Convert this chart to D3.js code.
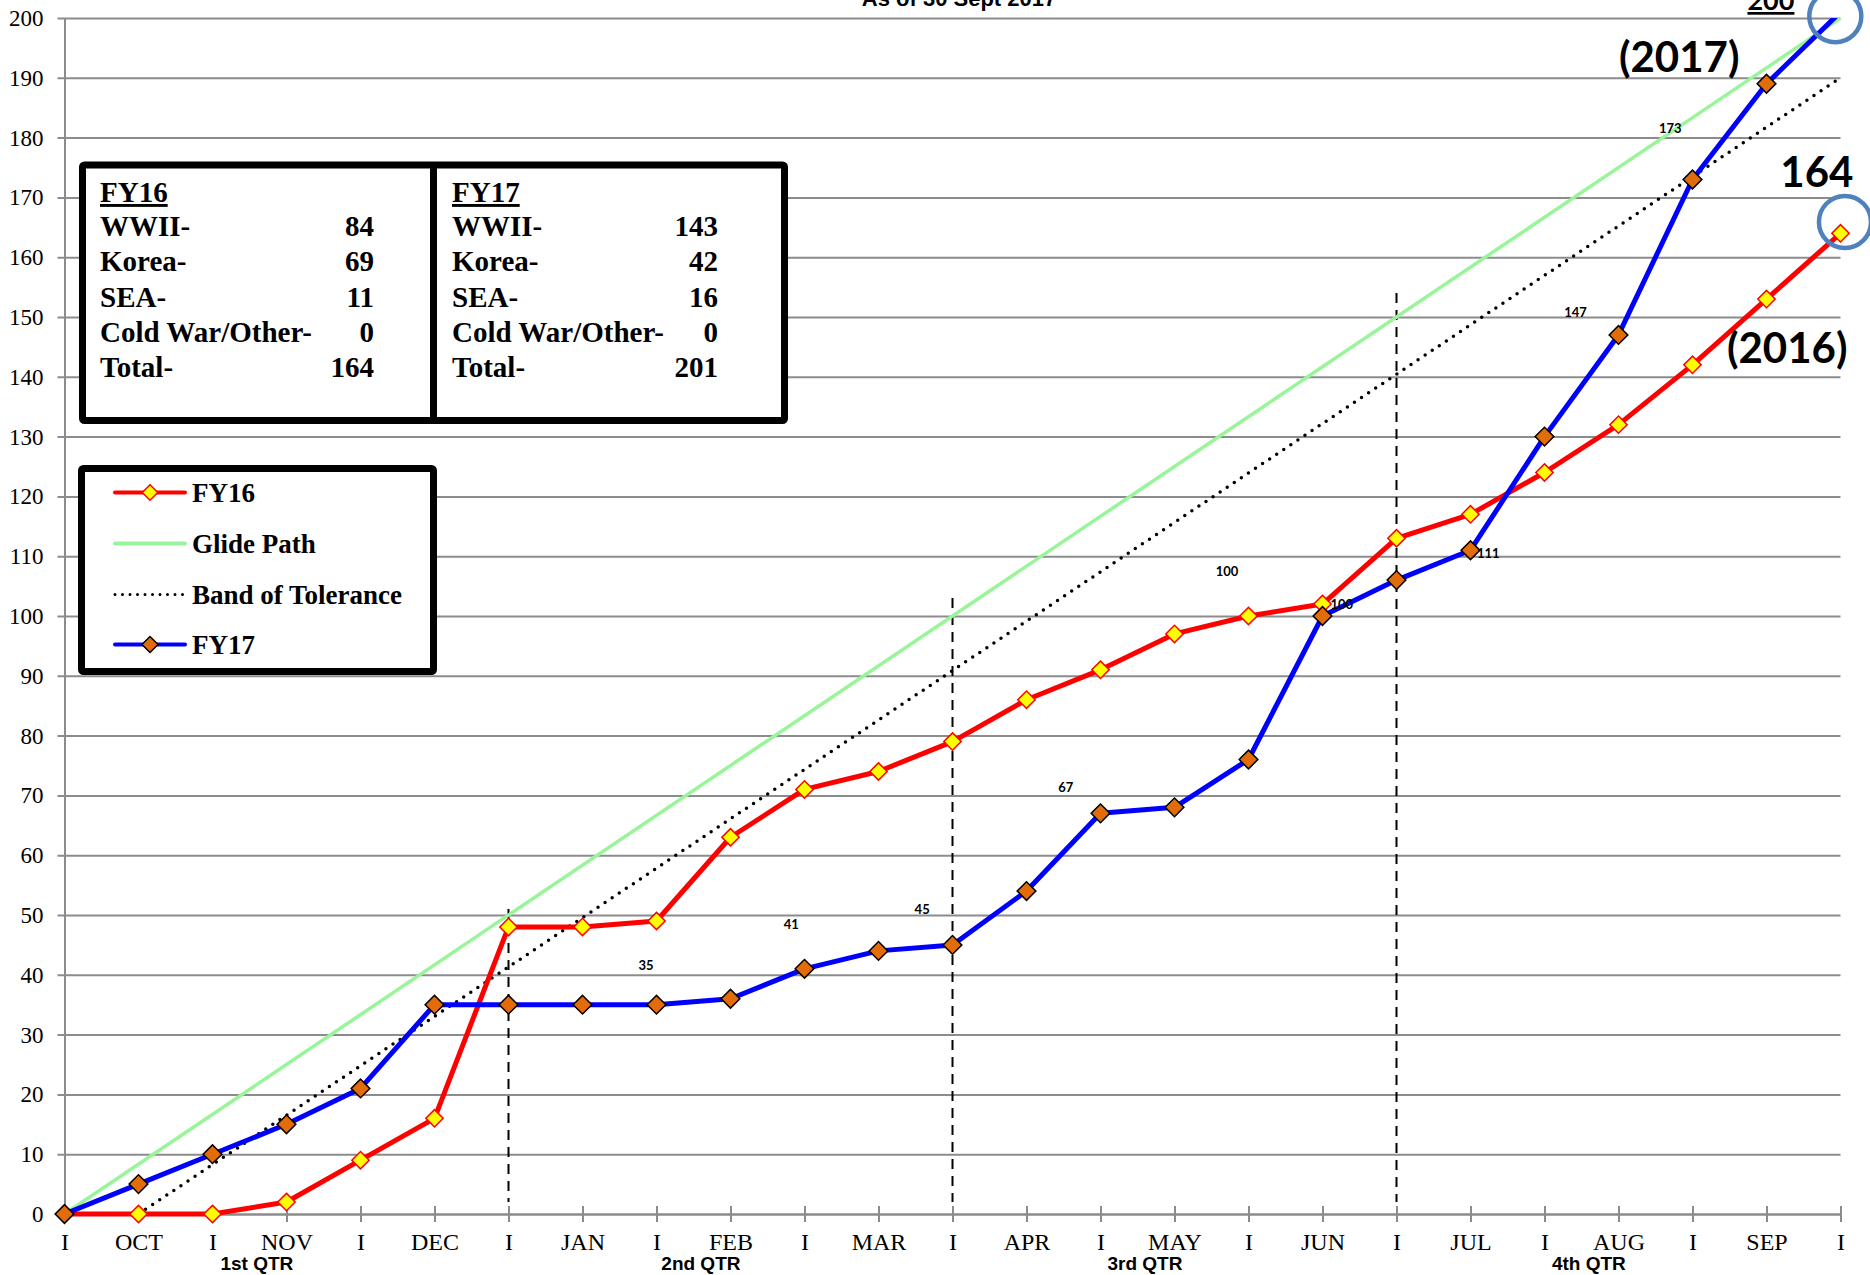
<!DOCTYPE html>
<html>
<head>
<meta charset="utf-8">
<script src="https://cdnjs.cloudflare.com/ajax/libs/d3/7.8.5/d3.min.js"></script>
<style>
  body { margin: 0; background: #fff; }
  svg { display: block; }
</style>
</head>
<body>
<div id="chart"></div>
<script>
'use strict';

// x slots ("I" marks the middle of each month)
var slots = ['I', 'OCT', 'I', 'NOV', 'I', 'DEC', 'I', 'JAN', 'I', 'FEB', 'I', 'MAR',
             'I', 'APR', 'I', 'MAY', 'I', 'JUN', 'I', 'JUL', 'I', 'AUG', 'I', 'SEP', 'I'];
var quarters = ['1st QTR', '2nd QTR', '3rd QTR', '4th QTR'];
var quarterPos = [2.6, 8.6, 14.6, 20.6];
var yTicks = [0, 10, 20, 30, 40, 50, 60, 70, 80, 90, 100, 110, 120, 130, 140, 150, 160, 170, 180, 190, 200];

// series
var fy16 = [0, 0, 0, 2, 9, 16, 48, 48, 49, 63, 71, 74, 79, 86, 91, 97, 100, 102, 113, 117, 124, 132, 142, 153, 164];
var fy17 = [0, 5, 10, 15, 21, 35, 35, 35, 35, 36, 41, 44, 45, 54, 67, 68, 76, 100, 106, 111, 130, 147, 173, 189, 201];
var glideIdx = [0, 24];
var glideVal = [0, 200];
var bandIdx = [1, 24];
var bandVal = [0, 190];

// quarter divider lines (slot, top value)
var dividerIdx = [6, 12, 18];
var dividerTop = [51, 103, 154];

// summary table
var tableCats = ['WWII-', 'Korea-', 'SEA-', 'Cold War/Other-', 'Total-'];
var fy16Counts = [84, 69, 11, 0, 164];
var fy17Counts = [143, 42, 16, 0, 201];

// loose data labels
var noteText = ['35', '41', '45', '67', '100', '100', '111', '147', '173'];
var noteIdx = [7.86, 9.82, 11.59, 13.53, 15.71, 17.26, 19.24, 20.42, 21.7];
var noteVal = [41.5, 48.5, 51, 71.4, 107.4, 102, 110.5, 150.8, 181.6];

// big call-outs
var calloutText = ['(2017)', '164', '(2016)'];
var calloutIdx = [21.82, 23.68, 23.28];
var calloutVal = [193.5, 174.3, 144.8];
var ringIdx = [23.93, 24.06];
var ringVal = [200.3, 165.9];

var W = 1870, H = 1275;
var serif = '"Liberation Serif", "Times New Roman", serif';
var sans = '"Liberation Sans", Arial, sans-serif';
var calibri = 'Lato, "Open Sans", sans-serif';

var svg = d3.select('#chart')
            .append('svg')
            .attr('width', W)
            .attr('height', H)
            .style('background', '#fff');

var x = d3.scaleLinear().domain([0, 24]).range([64.5, 1840.5]);
var y = d3.scaleLinear().domain([0, 200]).range([1214, 18]);

// plot area clip, values above 200 get cut like in the source
svg.append('clipPath').attr('id', 'plotclip')
   .append('rect')
   .attr('x', 0).attr('y', y(200))
   .attr('width', W).attr('height', H - y(200));

// title, mostly cut off at the top
svg.append('text')
   .attr('x', 959).attr('y', 6)
   .attr('text-anchor', 'middle')
   .style('font', 'bold 22px ' + sans)
   .text('As of 30 Sept 2017');

// y axis with gridlines
var yAxis = svg.append('g')
   .attr('transform', 'translate(' + x(0) + ',0)')
   .call(d3.axisLeft(y).tickValues(yTicks).tickSize(-(x(24) - x(0))).tickSizeOuter(0).tickPadding(21));
yAxis.select('.domain').attr('stroke', '#8c8c8c').attr('stroke-width', 2);
yAxis.selectAll('.tick line').attr('x1', -7).attr('stroke', '#8c8c8c').attr('stroke-width', 2);
yAxis.selectAll('.tick text')
     .attr('dy', '0.33em')
     .style('font', '23px ' + serif)
     .attr('fill', '#000');

// x axis
var xAxis = svg.append('g')
   .attr('transform', 'translate(0,' + y(0) + ')')
   .call(d3.axisBottom(x).tickValues(d3.range(slots.length)).tickFormat(function(i) { return slots[i]; })
                          .tickSize(8).tickSizeOuter(0));
xAxis.select('.domain').attr('stroke', '#8c8c8c').attr('stroke-width', 2);
xAxis.selectAll('.tick line').attr('y1', -8).attr('stroke', '#8c8c8c').attr('stroke-width', 2);
xAxis.selectAll('.tick text')
     .attr('y', 36).attr('dy', 0)
     .style('font', '24px ' + serif)
     .attr('fill', '#000');

svg.selectAll('text.qtr')
   .data(quarters)
   .enter().append('text')
   .attr('class', 'qtr')
   .attr('x', function(d, i) { return x(quarterPos[i]); })
   .attr('y', 1270)
   .attr('text-anchor', 'middle')
   .style('font', 'bold 19px ' + sans)
   .text(function(d) { return d; });

// quarter dividers
svg.selectAll('line.divider')
   .data(dividerIdx)
   .enter().append('line')
   .attr('class', 'divider')
   .attr('x1', function(d) { return x(d); })
   .attr('x2', function(d) { return x(d); })
   .attr('y1', function(d, i) { return y(dividerTop[i]); })
   .attr('y2', y(2))
   .attr('stroke', '#000')
   .attr('stroke-width', 2)
   .attr('stroke-dasharray', '10,7');

var line = d3.line()
             .x(function(d) { return x(d[0]); })
             .y(function(d) { return y(d[1]); });

var plot = svg.append('g').attr('clip-path', 'url(#plotclip)');

// glide path
plot.append('path')
   .datum(glideIdx.map(function(d, i) { return [d, glideVal[i]]; }))
   .attr('d', line)
   .attr('fill', 'none')
   .attr('stroke', '#99f599')
   .attr('stroke-width', 3.5);

// band of tolerance
plot.append('path')
   .datum(bandIdx.map(function(d, i) { return [d, bandVal[i]]; }))
   .attr('d', line)
   .attr('fill', 'none')
   .attr('stroke', '#000')
   .attr('stroke-width', 3.5)
   .attr('stroke-linecap', 'round')
   .attr('stroke-dasharray', '0,8.5');

var diamond = function(size) {
	return d3.symbol().type(d3.symbolSquare).size(size)();
};

function drawSeries(vals, color, fill, edge, size) {
	plot.append('path')
	   .datum(vals.map(function(d, i) { return [i, d]; }))
	   .attr('d', line)
	   .attr('fill', 'none')
	   .attr('stroke', color)
	   .attr('stroke-width', 5)
	   .attr('stroke-linejoin', 'round');

	// markers outside the value axis are hidden
	plot.append('g').selectAll('path')
	   .data(vals.map(function(d, i) { return [i, d]; }).filter(function(d) { return d[1] <= 200; }))
	   .enter().append('path')
	   .attr('d', diamond(size))
	   .attr('transform', function(d) { return 'translate(' + x(d[0]) + ',' + y(d[1]) + ') rotate(45)'; })
	   .attr('fill', fill)
	   .attr('stroke', edge)
	   .attr('stroke-width', 1.5);
}

drawSeries(fy16, '#ff0000', '#ffff00', '#ff0000', 150);
drawSeries(fy17, '#0000ff', '#e36c0a', '#000', 175);

// data labels
svg.selectAll('text.note')
   .data(noteText)
   .enter().append('text')
   .attr('class', 'note')
   .attr('x', function(d, i) { return x(noteIdx[i]); })
   .attr('y', function(d, i) { return y(noteVal[i]); })
   .attr('dy', '0.35em')
   .attr('text-anchor', 'middle')
   .style('font', 'bold 13px ' + calibri)
   .text(function(d) { return d; });

// call-outs
svg.selectAll('text.callout')
   .data(calloutText)
   .enter().append('text')
   .attr('class', 'callout')
   .attr('x', function(d, i) { return x(calloutIdx[i]); })
   .attr('y', function(d, i) { return y(calloutVal[i]); })
   .attr('dy', '0.36em')
   .attr('text-anchor', 'middle')
   .style('font', 'bold 42px ' + calibri)
   .text(function(d) { return d; });

svg.append('text')
   .attr('x', x(23.06)).attr('y', 10)
   .attr('text-anchor', 'middle')
   .style('font', 'bold 27px ' + calibri)
   .style('text-decoration', 'underline')
   .text('200');

svg.selectAll('circle.ring')
   .data(ringIdx)
   .enter().append('circle')
   .attr('class', 'ring')
   .attr('cx', function(d) { return x(d); })
   .attr('cy', function(d, i) { return y(ringVal[i]); })
   .attr('r', 26)
   .attr('fill', 'none')
   .attr('stroke', '#4f81bd')
   .attr('stroke-width', 4.5);

// summary table
var table = svg.append('g');
table.append('rect')
     .attr('x', 82.5).attr('y', 165)
     .attr('width', 702).attr('height', 255.5)
     .attr('fill', '#fff')
     .attr('stroke', '#000')
     .attr('stroke-width', 7)
     .attr('rx', 2);
table.append('line')
     .attr('x1', 433.5).attr('x2', 433.5)
     .attr('y1', 165).attr('y2', 420.5)
     .attr('stroke', '#000')
     .attr('stroke-width', 7);

[['FY16', fy16Counts, 100, 374], ['FY17', fy17Counts, 452, 718]].forEach(function(col) {
	table.append('text')
	     .attr('x', col[2]).attr('y', 202)
	     .style('font', 'bold 29px ' + serif)
	     .style('text-decoration', 'underline')
	     .text(col[0]);
	tableCats.forEach(function(c, i) {
		table.append('text')
		     .attr('x', col[2]).attr('y', 236 + i * 35.3)
		     .style('font', 'bold 29px ' + serif)
		     .text(c);
		table.append('text')
		     .attr('x', col[3]).attr('y', 236 + i * 35.3)
		     .attr('text-anchor', 'end')
		     .style('font', 'bold 29px ' + serif)
		     .text(col[1][i]);
	});
});

// legend
var legend = svg.append('g');
legend.append('rect')
      .attr('x', 81.5).attr('y', 468.5)
      .attr('width', 352).attr('height', 203)
      .attr('fill', '#fff')
      .attr('stroke', '#000')
      .attr('stroke-width', 7)
      .attr('rx', 2);

var legendItems = ['FY16', 'Glide Path', 'Band of Tolerance', 'FY17'];
var legendRows = [502, 553, 604, 654];
legendItems.forEach(function(name, i) {
	var ly = legendRows[i];
	var ln = legend.append('line')
	               .attr('x1', 115).attr('x2', 185)
	               .attr('y1', ly - 9.5).attr('y2', ly - 9.5)
	               .attr('stroke-linecap', 'round');
	if (name === 'FY16') ln.attr('stroke', '#ff0000').attr('stroke-width', 4);
	if (name === 'Glide Path') ln.attr('stroke', '#99f599').attr('stroke-width', 4);
	if (name === 'Band of Tolerance') ln.attr('stroke', '#000').attr('stroke-width', 3).attr('stroke-dasharray', '0,7.5');
	if (name === 'FY17') ln.attr('stroke', '#0000ff').attr('stroke-width', 4);
	if (name === 'FY16' || name === 'FY17') {
		legend.append('path')
		      .attr('d', diamond(name === 'FY16' ? 120 : 130))
		      .attr('transform', 'translate(150,' + (ly - 9.5) + ') rotate(45)')
		      .attr('fill', name === 'FY16' ? '#ffff00' : '#e36c0a')
		      .attr('stroke', name === 'FY16' ? '#ff0000' : '#000')
		      .attr('stroke-width', 1.5);
	}
	legend.append('text')
	      .attr('x', 192).attr('y', ly)
	      .style('font', 'bold 27px ' + serif)
	      .text(name);
});
</script>
</body>
</html>
